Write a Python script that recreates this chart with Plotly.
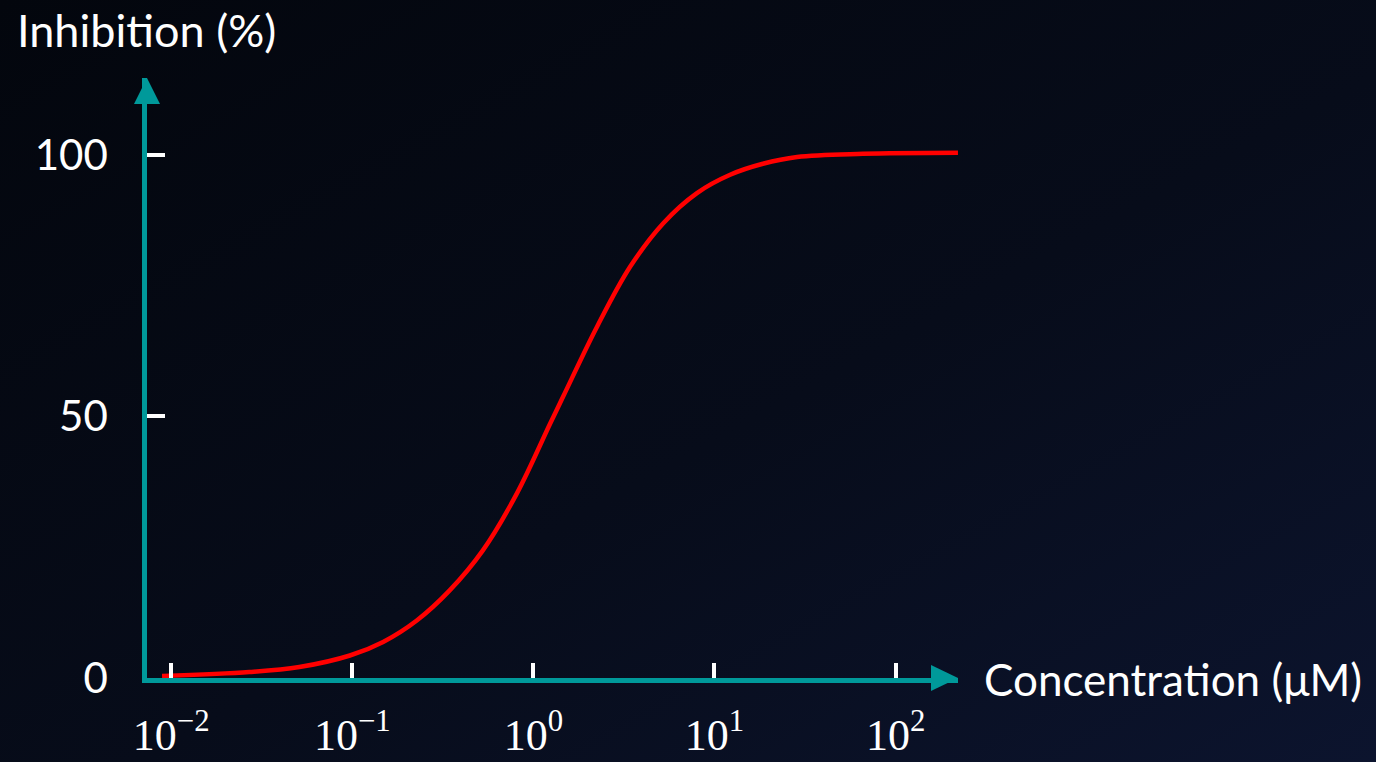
import base64
import plotly.graph_objects as go

# ---- data ----
concentration_um = [0.0089, 0.027, 0.051, 0.097, 0.148, 0.227, 0.346, 0.526, 0.811, 1.24,
                    1.46, 2.25, 3.42, 5.2, 8.0, 12.2, 18.5, 28.6, 66, 221]
inhibition_pct = [0.4, 1.15, 2.1, 4.3, 6.9, 11.0, 16.8, 24.4, 35.3, 48.7,
                  53.8, 67.2, 78.6, 86.9, 92.7, 96.2, 98.3, 99.6, 100.2, 100.4]
x_tickvals = [0.01, 0.1, 1, 10, 100]
x_ticktext = ["10<sup>−2</sup>", "10<sup>−1</sup>", "10<sup>0</sup>", "10<sup>1</sup>", "10<sup>2</sup>"]
y_tickvals = [0, 50, 100]
y_ticktext = ["0", "50", "100"]

TEAL = "#00999a"
W, H = 1376, 762
L, R, T, B = 147, 418, 78, 84
PW, PH = W - L - R, H - T - B

fig = go.Figure()
fig.add_trace(go.Scatter(
    x=concentration_um, y=inhibition_pct, mode="lines",
    line=dict(color="#ff0000", width=4.5, shape="spline", smoothing=1.0),
    cliponaxis=False, hoverinfo="skip", showlegend=False))

# background gradient
svg = ('<svg xmlns="http://www.w3.org/2000/svg" width="1376" height="762">'
       '<defs><linearGradient id="g" x1="0" y1="0" x2="1" y2="1">'
       '<stop offset="0" stop-color="#03060d"/>'
       '<stop offset="0.55" stop-color="#070c1a"/>'
       '<stop offset="1" stop-color="#0c142e"/>'
       '</linearGradient></defs><rect width="1376" height="762" fill="url(#g)"/></svg>')
src = "data:image/svg+xml;base64," + base64.b64encode(svg.encode()).decode()

fig.update_layout(
    width=W, height=H,
    margin=dict(l=L, r=R, t=T, b=B, pad=0, autoexpand=False),
    paper_bgcolor="#070c1a", plot_bgcolor="rgba(0,0,0,0)",
    images=[dict(source=src, xref="paper", yref="paper",
                 x=-L / PW, y=1 + T / PH, sizex=W / PW, sizey=H / PH,
                 xanchor="left", yanchor="top", sizing="stretch", layer="below")],
    xaxis=dict(type="log", range=[-2.1336, 2.3446], showgrid=False, zeroline=False,
               automargin=False,
               showline=True, linecolor=TEAL, linewidth=4.5,
               tickvals=x_tickvals, ticktext=x_ticktext, ticks="inside",
               ticklen=15, tickwidth=4, tickcolor="white",
               tickfont=dict(family="Liberation Serif", size=44, color="white"),
               ticklabelstandoff=14),
    yaxis=dict(range=[0, 114.7], showgrid=False, zeroline=False,
               automargin=False,
               showline=True, linecolor=TEAL, linewidth=4.5,
               tickvals=y_tickvals, ticktext=y_ticktext, ticks="inside",
               ticklen=18, tickwidth=4, tickcolor="white",
               tickfont=dict(family="Lato", size=42, color="white"),
               ticklabelstandoff=26),
    annotations=[
        dict(text="Inhibition (%)", xref="paper", yref="paper",
             x=(15 - L) / PW, y=(H - B - 30) / PH, xanchor="left", yanchor="middle",
             showarrow=False, font=dict(family="Lato", size=45, color="white")),
        dict(text="Concentration (μM)", xref="paper", yref="paper",
             x=(982 - L) / PW, y=(H - B - 679) / PH, xanchor="left", yanchor="middle",
             showarrow=False, font=dict(family="Lato", size=44, color="white")),
    ],
    shapes=[
        dict(type="path", xref="paper", yref="paper", xsizemode="pixel", ysizemode="pixel",
             xanchor=1, yanchor=0, path="M -27,-13 L 0,0 L -27,13 Z",
             fillcolor=TEAL, line=dict(width=0), layer="above"),
        dict(type="path", xref="paper", yref="paper", xsizemode="pixel", ysizemode="pixel",
             xanchor=0, yanchor=1, path="M -13,-26 L 0,0 L 13,-26 Z",
             fillcolor=TEAL, line=dict(width=0), layer="above"),
    ],
)

fig.write_html("out.html", config={"displayModeBar": False},
               post_script="document.body.style.margin='0';document.body.style.overflow='hidden';")
